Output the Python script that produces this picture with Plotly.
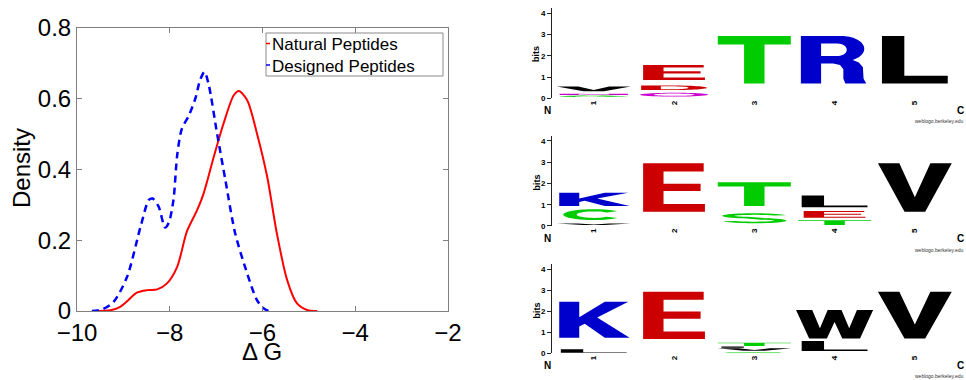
import numpy as np
import plotly.graph_objects as go

# ---------------- Density data ----------------
NAT_X = [-9.60, -9.28, -9.07, -8.90, -8.71, -8.49, -8.27, -8.06, -7.84, -7.63, -7.41, -7.27,
         -7.05, -6.84, -6.62, -6.51, -6.33, -6.12, -5.90, -5.69, -5.47, -5.26, -5.04, -4.82]
NAT_Y = [0.0, 0.002, 0.012, 0.030, 0.052, 0.059, 0.061, 0.078, 0.125, 0.225, 0.285, 0.332,
         0.436, 0.530, 0.610, 0.622, 0.596, 0.502, 0.380, 0.219, 0.088, 0.022, 0.003, 0.0]
DES_X = [-9.68, -9.45, -9.21, -8.92, -8.63, -8.45, -8.37, -8.24, -8.10, -8.02, -7.92, -7.84,
         -7.74, -7.59, -7.45, -7.34, -7.25, -7.16, -6.98, -6.80, -6.59, -6.33, -6.12, -5.98, -5.87]
DES_Y = [0.0, 0.005, 0.026, 0.097, 0.238, 0.314, 0.318, 0.295, 0.236, 0.250, 0.314, 0.440,
         0.515, 0.552, 0.600, 0.655, 0.676, 0.640, 0.502, 0.370, 0.220, 0.106, 0.031, 0.008, 0.0]
X_TICKS = [-10, -8, -6, -4, -2]
Y_TICKS = [0, 0.2, 0.4, 0.6, 0.8]
Y_TICKTEXT = ["0", "0.2", "0.4", "0.6", "0.8"]

# ---------------- Sequence logo data (bits ranges) ----------------
LOGO_TICKS = [1, 2, 3, 4, 5]
LOGO_TICKTEXT = ["1", "2", "3", "4", "5"]
BITS_TICKS = [0, 1, 2, 3, 4]

LOGO1_POS = [1, 1, 1, 2, 2, 2, 3, 4, 5]
LOGO1_RES = ["G", "N", "V", "Q", "D", "E", "T", "R", "L"]
LOGO1_LOW = [0.06, 0.15, 0.33, 0.08, 0.39, 0.86, 0.70, 0.70, 0.70]
LOGO1_HIGH = [0.13, 0.22, 0.55, 0.26, 0.60, 1.57, 2.93, 2.93, 2.93]

LOGO2_POS = [1, 1, 1, 2, 3, 3, 4, 4, 4, 5]
LOGO2_RES = ["V", "C", "K", "E", "S", "T", "T", "E", "L", "V"]
LOGO2_LOW = [0.05, 0.28, 0.94, 0.67, 0.13, 0.94, 0.05, 0.39, 0.88, 0.67]
LOGO2_HIGH = [0.12, 0.79, 1.57, 2.95, 0.60, 2.06, 0.27, 0.71, 1.43, 2.95]

LOGO3_POS = [1, 1, 2, 3, 3, 3, 3, 4, 4, 5]
LOGO3_RES = ["L", "K", "E", "S", "V", "L", "T", "L", "W", "V"]
LOGO3_LOW = [0.03, 0.74, 0.68, 0.00, 0.12, 0.26, 0.35, 0.11, 0.71, 0.71]
LOGO3_HIGH = [0.19, 2.46, 2.93, 0.05, 0.24, 0.32, 0.50, 0.59, 2.06, 2.93]

RES_COLOR = {}
for r in "GSTYC":
    RES_COLOR[r] = "#00CC00"
for r in "NQ":
    RES_COLOR[r] = "#CC00CC"
for r in "KRH":
    RES_COLOR[r] = "#0000CC"
for r in "DE":
    RES_COLOR[r] = "#CC0000"
for r in "AVLIPWFM":
    RES_COLOR[r] = "#000000"

# ---------------- glyph outlines in a unit box ----------------
def ell(cx, cy, rx, ry, a0, a1, n=30):
    t = np.radians(np.linspace(a0, a1, n))
    return list(zip(cx + rx * np.cos(t), cy + ry * np.sin(t)))

_s_right = ell(0.5, 0.74, 0.47, 0.26, 15, 250) + ell(0.5, 0.26, 0.29, 0.10, 70, -165)
_s_left = ell(0.5, 0.74, 0.29, 0.10, 15, 250) + ell(0.5, 0.26, 0.47, 0.26, 70, -165)

GLYPHS = {
    "T": [[(0, 1), (1, 1), (1, 0.82), (0.64, 0.82), (0.64, 0), (0.36, 0), (0.36, 0.82), (0, 0.82)]],
    "L": [[(0, 0), (1, 0), (1, 0.16), (0.34, 0.16), (0.34, 1), (0, 1)]],
    "E": [[(0, 0), (1, 0), (1, 0.16), (0.33, 0.16), (0.33, 0.43), (0.93, 0.43), (0.93, 0.58),
           (0.33, 0.58), (0.33, 0.83), (0.98, 0.83), (0.98, 1), (0, 1)]],
    "K": [[(0, 0), (0, 1), (0.29, 1), (0.29, 0.57), (0.66, 1), (1, 1), (0.55, 0.56), (1.02, 0),
           (0.66, 0), (0.37, 0.39), (0.29, 0.31), (0.29, 0)]],
    "V": [[(0, 1), (0.29, 1), (0.5, 0.3), (0.71, 1), (1, 1), (0.64, 0), (0.36, 0)]],
    "W": [[(0, 1), (0.21, 1), (0.31, 0.36), (0.41, 1), (0.59, 1), (0.69, 0.36), (0.79, 1), (1, 1),
           (0.83, 0), (0.6, 0), (0.5, 0.58), (0.4, 0), (0.17, 0)]],
    "N": [[(0, 0), (0, 1), (0.28, 1), (0.72, 0.4), (0.72, 1), (1, 1), (1, 0), (0.72, 0),
           (0.28, 0.6), (0.28, 0)]],
    "R": [[(0, 0), (0, 1), (0.6, 1)] + ell(0.6, 0.73, 0.34, 0.27, 90, -60) +
          [(0.86, 0.44), (0.92, 0.34), (0.93, 0.1), (0.97, 0.0), (0.66, 0), (0.63, 0.1),
           (0.63, 0.3), (0.58, 0.39), (0.48, 0.42), (0.3, 0.42), (0.3, 0)],
          [(0.3, 0.58), (0.3, 0.84), (0.55, 0.84)] + ell(0.55, 0.71, 0.13, 0.13, 90, -90)],
    "D": [[(0, 0), (0, 1), (0.5, 1)] + ell(0.5, 0.5, 0.5, 0.5, 90, -90),
          [(0.3, 0.18), (0.3, 0.82), (0.5, 0.82)] + ell(0.5, 0.5, 0.22, 0.32, 90, -90)],
    "C": [ell(0.5, 0.5, 0.5, 0.5, 40, 320) + ell(0.5, 0.5, 0.28, 0.3, 320, 40)],
    "G": [ell(0.5, 0.5, 0.5, 0.5, 35, 360) +
          [(0.55, 0.5), (0.55, 0.36), (0.76, 0.36)] + ell(0.5, 0.5, 0.28, 0.3, 335, 35)],
    "Q": [ell(0.5, 0.5, 0.5, 0.5, 0, 360, 40), ell(0.5, 0.5, 0.3, 0.3, 0, 360, 40)],
    "S": [_s_right + _s_left[::-1]],
}
GLYPH_W = {"T": 0.91, "R": 0.84, "L": 0.82, "E": 0.77, "K": 0.86, "V": 0.92, "W": 0.96,
           "S": 0.85, "C": 0.76, "G": 0.85, "Q": 0.85, "D": 0.82, "N": 0.85}


def glyph_path(ch, xc, y0, y1):
    w = GLYPH_W[ch]
    parts = []
    for poly in GLYPHS[ch]:
        pts = [(xc + (gx - 0.5) * w, y0 + gy * (y1 - y0)) for gx, gy in poly]
        parts.append("M " + " L ".join(f"{x:.4f},{y:.4f}" for x, y in pts) + " Z")
    return " ".join(parts)


FONT = "Liberation Sans, Arial, sans-serif"
fig = go.Figure()

# ---------------- density plot ----------------
fig.add_trace(go.Scatter(x=NAT_X, y=NAT_Y, mode="lines", name="Natural Peptides",
                         line=dict(color="#FF0000", width=2, shape="spline", smoothing=0.8),
                         showlegend=False, xaxis="x", yaxis="y"))
fig.add_trace(go.Scatter(x=DES_X, y=DES_Y, mode="lines", name="Designed Peptides",
                         line=dict(color="#0000FF", width=2.5, dash="7px,5px", shape="spline",
                                   smoothing=0.8),
                         showlegend=False, xaxis="x", yaxis="y"))

shapes = []
annotations = []

# ---------------- logos ----------------
LOGOS = [
    (LOGO1_POS, LOGO1_RES, LOGO1_LOW, LOGO1_HIGH, "x2", "y2"),
    (LOGO2_POS, LOGO2_RES, LOGO2_LOW, LOGO2_HIGH, "x3", "y3"),
    (LOGO3_POS, LOGO3_RES, LOGO3_LOW, LOGO3_HIGH, "x4", "y4"),
]
for pos, res, lo, hi, xa, ya in LOGOS:
    for p, r, a, b in zip(pos, res, lo, hi):
        shapes.append(dict(type="path", path=glyph_path(r, p, a, b), xref=xa, yref=ya,
                           fillcolor=RES_COLOR[r], line=dict(width=0), fillrule="evenodd",
                           layer="above"))
    fig.add_trace(go.Scatter(x=pos, y=hi, mode="markers", marker=dict(opacity=0, size=4),
                             text=res, hovertemplate="pos %{x}: %{text}<extra></extra>",
                             showlegend=False, xaxis=xa, yaxis=ya))

# legend (custom, matching the compact box)
W, H = 966.0, 380.0
def px(x):
    return x / W
def py(y):
    return (H - y) / H

shapes.append(dict(type="rect", xref="paper", yref="paper", x0=px(266), x1=px(443),
                   y0=py(76), y1=py(33), line=dict(color="#8a8a8a", width=1),
                   fillcolor="rgba(0,0,0,0)", layer="above"))
shapes.append(dict(type="line", xref="paper", yref="paper", x0=px(266), x1=px(270),
                   y0=py(43.5), y1=py(43.5), line=dict(color="#FF0000", width=1.5)))
shapes.append(dict(type="line", xref="paper", yref="paper", x0=px(266), x1=px(270),
                   y0=py(65), y1=py(65), line=dict(color="#0000FF", width=1.5)))
annotations.append(dict(text="Natural Peptides", xref="paper", yref="paper", x=px(270),
                        y=py(44), xanchor="left", yanchor="middle", showarrow=False,
                        font=dict(family=FONT, size=17, color="black")))
annotations.append(dict(text="Designed Peptides", xref="paper", yref="paper", x=px(270),
                        y=py(66), xanchor="left", yanchor="middle", showarrow=False,
                        font=dict(family=FONT, size=17, color="black")))
annotations.append(dict(text="Density", xref="paper", yref="paper", x=px(21), y=py(168),
                        textangle=-90, xanchor="center", yanchor="middle", showarrow=False,
                        font=dict(family=FONT, size=24, color="black")))
annotations.append(dict(text="\u0394 G", xref="paper", yref="paper", x=px(262), y=py(351),
                        xanchor="center", yanchor="middle", showarrow=False,
                        font=dict(family=FONT, size=24, color="black")))

# logo decorations
LOGO_N_Y = [110, 238.5, 365]
LOGO_WEB_Y = [121, 249.5, 376]
LOGO_BITS_Y = [54, 182.5, 310.5]
for ny, wy, by in zip(LOGO_N_Y, LOGO_WEB_Y, LOGO_BITS_Y):
    annotations.append(dict(text="<b>N</b>", xref="paper", yref="paper", x=px(547), y=py(ny),
                            xanchor="center", yanchor="middle", showarrow=False,
                            font=dict(family=FONT, size=10, color="black")))
    annotations.append(dict(text="<b>C</b>", xref="paper", yref="paper", x=px(960), y=py(ny),
                            xanchor="center", yanchor="middle", showarrow=False,
                            font=dict(family=FONT, size=10, color="black")))
    annotations.append(dict(text="weblogo.berkeley.edu", xref="paper", yref="paper",
                            x=px(965), y=py(wy), xanchor="right", yanchor="middle",
                            showarrow=False, font=dict(family=FONT, size=5, color="#333")))
    annotations.append(dict(text="<b>bits</b>", xref="paper", yref="paper", x=px(536),
                            y=py(by), textangle=-90, xanchor="center", yanchor="middle",
                            showarrow=False, font=dict(family=FONT, size=9, color="black")))

logo_x = dict(range=[0.48, 5.5], domain=[px(552), px(955)], tickmode="array",
              tickvals=LOGO_TICKS, ticktext=LOGO_TICKTEXT, tickangle=-90, ticks="",
              showline=False, showgrid=False, zeroline=False, automargin=False,
              tickfont=dict(family=FONT, size=8, color="black", weight="bold"))
logo_y = dict(range=[0, 4.25], tickmode="array", tickvals=BITS_TICKS, ticks="outside",
              ticklen=4, tickcolor="#222", showline=True, linecolor="#222", linewidth=1,
              showgrid=False, zeroline=False, automargin=False,
              tickfont=dict(family=FONT, size=8, color="black", weight="bold"))

fig.update_layout(
    width=966, height=380, margin=dict(l=0, r=0, t=0, b=0, pad=0, autoexpand=False),
    paper_bgcolor="white", plot_bgcolor="white", showlegend=False,
    xaxis=dict(domain=[px(77), px(448)], range=[-10, -2], tickmode="array", tickvals=X_TICKS,
               ticks="inside", ticklen=5, tickcolor="#808080", showline=True,
               linecolor="#808080", linewidth=1, mirror="ticks", showgrid=False,
               zeroline=False, automargin=False,
               tickfont=dict(family=FONT, size=24, color="black"), anchor="y"),
    yaxis=dict(domain=[py(311), py(28)], range=[0, 0.8], tickmode="array", tickvals=Y_TICKS,
               ticktext=Y_TICKTEXT, ticks="inside", ticklen=5, tickcolor="#808080",
               showline=True, linecolor="#808080", linewidth=1, mirror="ticks",
               showgrid=False, zeroline=False, automargin=False,
               tickfont=dict(family=FONT, size=24, color="black"), anchor="x"),
    xaxis2=dict(logo_x, anchor="y2"),
    yaxis2=dict(logo_y, domain=[py(98.3), py(98.3 - 4.25 * 21.25)], anchor="x2"),
    xaxis3=dict(logo_x, anchor="y3"),
    yaxis3=dict(logo_y, domain=[py(226), py(226 - 4.25 * 21.25)], anchor="x3"),
    xaxis4=dict(logo_x, anchor="y4"),
    yaxis4=dict(logo_y, domain=[py(353.3), py(353.3 - 4.25 * 21.0)], anchor="x4"),
    shapes=shapes, annotations=annotations,
)

fig.write_html("out.html")
